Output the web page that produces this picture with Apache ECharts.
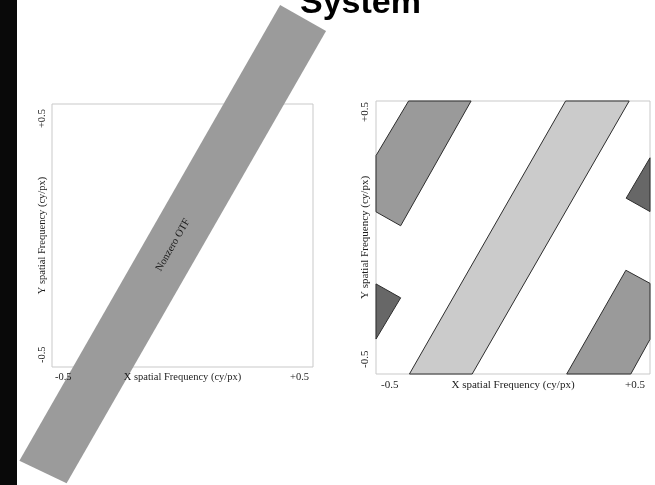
<!DOCTYPE html>
<html><head><meta charset="utf-8">
<script src="https://cdn.jsdelivr.net/npm/echarts@6/dist/echarts.min.js"></script>
<style>html,body{margin:0;padding:0;background:#fff}#c{width:655px;height:485px}</style>
</head><body><div id="c"></div>
<script>
// ---- data (cy/px) ----
const titleText = 'System';
const xAxisTitle = 'X spatial Frequency (cy/px)';
const yAxisTitle = 'Y spatial Frequency (cy/px)';
const tickValues = [-0.5, 0.5];
const tickLabels = ['-0.5', '+0.5'];
const bandLabel = 'Nonzero OTF';
// left panel: nonzero OTF band (extends outside the Nyquist square)
const otfBand = [[0.374, 0.876], [0.550, 0.778], [-0.444, -0.942], [-0.625, -0.856]];
// right panel: aliased replicas
const centralBand = [[0.192, 0.5], [0.424, 0.5], [-0.149, -0.5], [-0.378, -0.5]];
const upperLeftBand = [[-0.5, 0.300], [-0.381, 0.5], [-0.153, 0.5], [-0.410, 0.043], [-0.5, 0.094]];
const lowerRightBand = [[0.412, -0.120], [0.5, -0.168], [0.5, -0.373], [0.430, -0.5], [0.196, -0.5]];
const leftTriangle = [[-0.5, -0.170], [-0.410, -0.221], [-0.5, -0.372]];
const rightTriangle = [[0.5, 0.292], [0.413, 0.144], [0.5, 0.095]];

const leftPolys = [otfBand];
const rightPolys = [centralBand, upperLeftBand, lowerRightBand, leftTriangle, rightTriangle];
const rightFills = ['#cbcbcb', '#9a9a9a', '#9a9a9a', '#676767', '#676767'];

const serif = '"Liberation Serif", "DejaVu Serif", serif';
const txtColor = '#1c1c1c';

function centroid(p) {
  let x = 0, y = 0;
  p.forEach(v => { x += v[0]; y += v[1]; });
  return [x / p.length, y / p.length];
}
function fmt(v) {
  const i = tickValues.findIndex(t => Math.abs(t - v) < 1e-9);
  return i >= 0 ? tickLabels[i] : '';
}

function makeAxes(gi, fs, xMargin, yMargin, xPad, yPad) {
  const common = {
    gridIndex: gi, type: 'value', min: -0.5, max: 0.5, interval: 1, z: 10,
    axisLine: { show: false }, axisTick: { show: false }, splitLine: { show: false },
    nameLocation: 'middle', nameMoveOverlap: false,
    nameTextStyle: { fontFamily: serif, fontSize: fs, color: txtColor }
  };
  const x = Object.assign({}, common, {
    name: xAxisTitle, nameGap: xMargin,
    axisLabel: { formatter: fmt, fontFamily: serif, fontSize: fs, color: txtColor,
      margin: xMargin, alignMinLabel: 'left', alignMaxLabel: 'right', padding: xPad }
  });
  const y = Object.assign({}, common, {
    name: yAxisTitle, nameGap: yMargin,
    axisLabel: { formatter: fmt, fontFamily: serif, fontSize: fs, color: txtColor,
      margin: yMargin, rotate: 90, alignMinLabel: 'left', alignMaxLabel: 'right', padding: yPad }
  });
  return [x, y];
}

const [x0, y0] = makeAxes(0, 10.5, 5, 4, [0, 4, 0, 3], [0, 5, 0, 4]);
const [x1, y1] = makeAxes(1, 11, 6, 5, [0, 5, 0, 5], [0, 1, 0, 6]);

const chart = echarts.init(document.getElementById('c'), null, { renderer: 'canvas' });
chart.setOption({
  backgroundColor: '#ffffff',
  animation: false,
  title: {
    text: titleText, left: 295, top: -18,
    textStyle: { fontFamily: '"Liberation Sans", Arial, sans-serif', fontWeight: 'bold', fontSize: 34, color: '#000' }
  },
  graphic: [
    { type: 'rect', left: 0, top: 0, shape: { width: 17, height: 485 }, style: { fill: '#090909' }, z: 100 }
  ],
  grid: [
    { left: 52, top: 104, width: 261, height: 263, show: true, borderColor: '#c9c9c9', borderWidth: 1, backgroundColor: '#fff' },
    { left: 376, top: 101, width: 274, height: 273, show: true, borderColor: '#c9c9c9', borderWidth: 1, backgroundColor: '#fff' }
  ],
  xAxis: [x0, x1],
  yAxis: [y0, y1],
  series: [
    {
      type: 'custom', xAxisIndex: 0, yAxisIndex: 0, clip: false, z: 2,
      data: leftPolys.map(centroid),
      encode: { x: 0, y: 1 },
      renderItem: function (params, api) {
        const poly = leftPolys[params.dataIndex];
        const pts = poly.map(v => api.coord(v));
        const c = api.coord(centroid(poly));
        const a = pts[3], b = pts[0];
        const ang = Math.atan2(-(b[1] - a[1]), b[0] - a[0]);
        return {
          type: 'group',
          children: [
            { type: 'polygon', shape: { points: pts }, style: { fill: '#9b9b9b', stroke: null } },
            { type: 'text', x: c[0], y: c[1], rotation: ang,
              style: { text: bandLabel, fontFamily: serif, fontSize: 10.5, fill: '#1a1a1a', align: 'center', verticalAlign: 'middle' } }
          ]
        };
      }
    },
    {
      type: 'custom', xAxisIndex: 1, yAxisIndex: 1, z: 2,
      data: rightPolys.map(centroid),
      encode: { x: 0, y: 1 },
      renderItem: function (params, api) {
        const poly = rightPolys[params.dataIndex];
        const pts = poly.map(v => api.coord(v));
        return { type: 'polygon', shape: { points: pts },
          style: { fill: rightFills[params.dataIndex], stroke: '#2e2e2e', lineWidth: 1 } };
      }
    }
  ]
});
</script></body></html>
